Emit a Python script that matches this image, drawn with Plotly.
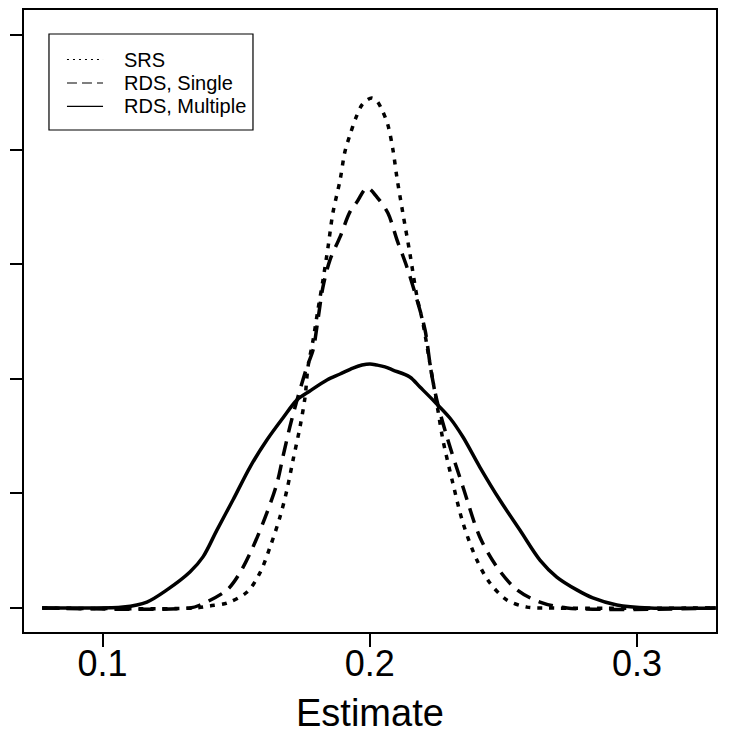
import plotly.graph_objects as go

# density estimates
srs_x = [0.0774, 0.1346, 0.1402, 0.1466, 0.1541, 0.1589, 0.1627, 0.1664, 0.1690, 0.1713,
         0.1739, 0.1758, 0.1769, 0.1788, 0.1806, 0.1825, 0.1844, 0.1862, 0.1889, 0.1907,
         0.1926, 0.1948, 0.1971, 0.1990, 0.2008, 0.2027, 0.2046, 0.2068, 0.2087, 0.2102,
         0.2124, 0.2150, 0.2177, 0.2199, 0.2225, 0.2255, 0.2274, 0.2311, 0.2349, 0.2401,
         0.2450, 0.2513, 0.2588, 0.2663, 0.3295]
srs_y = [0, 0, 0.09, 0.22, 0.70, 1.53, 2.66, 3.97, 5.15, 6.46,
         7.90, 9.21, 10.52, 11.69, 13.00, 14.31, 15.75, 17.23, 18.67, 19.90,
         20.64, 21.38, 21.95, 22.16, 22.25, 22.12, 21.73, 21.07, 19.98, 18.76,
         17.23, 15.49, 13.57, 12.44, 10.69, 8.64, 7.33, 5.45, 3.71, 2.09,
         1.09, 0.35, 0.04, 0, 0]

single_x = [0.0774, 0.1327, 0.1365, 0.1466, 0.1514, 0.1563, 0.1615, 0.1653, 0.1675, 0.1701,
            0.1728, 0.1765, 0.1788, 0.1806, 0.1825, 0.1851, 0.1889, 0.1926, 0.1952, 0.1990,
            0.2027, 0.2068, 0.2102, 0.2139, 0.2177, 0.2207, 0.2229, 0.2251, 0.2289, 0.2349,
            0.2412, 0.2476, 0.2551, 0.2637, 0.2738, 0.3295]
single_y = [0, 0, 0.13, 0.79, 1.53, 2.66, 4.15, 5.45, 6.59, 7.90,
            9.08, 10.52, 11.26, 12.57, 14.01, 15.18, 16.19, 17.28, 17.71, 18.33,
            17.93, 17.23, 16.06, 14.88, 13.44, 12.13, 10.38, 9.08, 7.46, 5.28,
            3.10, 1.79, 0.79, 0.26, 0, 0]

multi_x = [0.0774, 0.0916, 0.1077, 0.1166, 0.1241, 0.1327, 0.1376, 0.1428, 0.1488, 0.1552,
           0.1615, 0.1675, 0.1728, 0.1776, 0.1840, 0.1889, 0.1937, 0.1971, 0.2001, 0.2027,
           0.2057, 0.2087, 0.2150, 0.2188, 0.2236, 0.2300, 0.2349, 0.2412, 0.2487, 0.2562,
           0.2637, 0.2700, 0.2775, 0.2835, 0.2925, 0.3048, 0.3295]
multi_y = [0, 0, 0.04, 0.26, 0.79, 1.57, 2.23, 3.40, 4.71, 6.15,
           7.33, 8.29, 9.08, 9.47, 9.95, 10.21, 10.47, 10.60, 10.65, 10.60,
           10.52, 10.38, 10.08, 9.64, 9.08, 8.29, 7.46, 6.15, 4.71, 3.40,
           2.09, 1.35, 0.79, 0.44, 0.13, 0, 0]

x_ticks = [0.1, 0.2, 0.3]
x_labels = ["0.1", "0.2", "0.3"]
y_ticks = [0, 5, 10, 15, 20, 25]

legend_names = ["SRS", "RDS, Single", "RDS, Multiple"]
legend_dash = ["2px,4px", "10px,5px", "solid"]

fig = go.Figure()
fig.add_trace(go.Scatter(x=srs_x, y=srs_y, mode="lines", name="SRS",
                         line=dict(color="black", width=3.5, dash="5px,7px",
                                   shape="spline", smoothing=0.9)))
fig.add_trace(go.Scatter(x=single_x, y=single_y, mode="lines", name="RDS, Single",
                         line=dict(color="black", width=3.5, dash="15px,9px",
                                   shape="spline", smoothing=0.9)))
fig.add_trace(go.Scatter(x=multi_x, y=multi_y, mode="lines", name="RDS, Multiple",
                         line=dict(color="black", width=3.5,
                                   shape="spline", smoothing=0.9)))

# legend drawn by hand to get R's look (thin sample lines in a box)
fig.add_shape(type="rect", xref="paper", yref="paper",
              x0=0.0361, x1=0.3309, y0=0.8071, y1=0.9614,
              line=dict(color="black", width=1.2), fillcolor="white")
rows = [0.9204, 0.8826, 0.8449]
for name, dash, yy in zip(legend_names, legend_dash, rows):
    fig.add_shape(type="line", xref="paper", yref="paper",
                  x0=0.0621, x1=0.1142, y0=yy, y1=yy,
                  line=dict(color="black", width=1.2, dash=dash))
    fig.add_annotation(x=0.1416, y=yy, xref="paper", yref="paper", text=name,
                       showarrow=False, xanchor="left", yanchor="middle",
                       font=dict(size=20, color="black"))

fig.add_annotation(x=0.5, y=-0.0925, xref="paper", yref="paper", text="Estimate",
                   showarrow=False, xanchor="center", yanchor="top",
                   font=dict(size=38, color="black"))

fig.update_xaxes(range=[0.0706, 0.3296], tickvals=x_ticks, ticktext=x_labels,
                 ticks="outside", ticklen=13, tickwidth=1.5, tickcolor="black",
                 showline=True, mirror=True, linecolor="black", linewidth=1.5,
                 showgrid=False, zeroline=False, automargin=False,
                 ticklabelstandoff=-14,
                 tickfont=dict(size=36, color="black"))
fig.update_yaxes(range=[-1.047, 26.09], tickvals=y_ticks, showticklabels=False,
                 ticks="outside", ticklen=12, tickwidth=1.5, tickcolor="black",
                 showline=True, mirror=True, linecolor="black", linewidth=1.5,
                 showgrid=False, zeroline=False, automargin=False)
# page body adds an 8px offset, so the figure is 8px smaller than the window
fig.update_layout(template="none", width=721, height=728, showlegend=False,
                  margin=dict(l=16, r=13, t=2, b=104),
                  paper_bgcolor="white", plot_bgcolor="white",
                  font=dict(family="Liberation Sans, Arial, sans-serif"))
fig.write_html("out.html")
